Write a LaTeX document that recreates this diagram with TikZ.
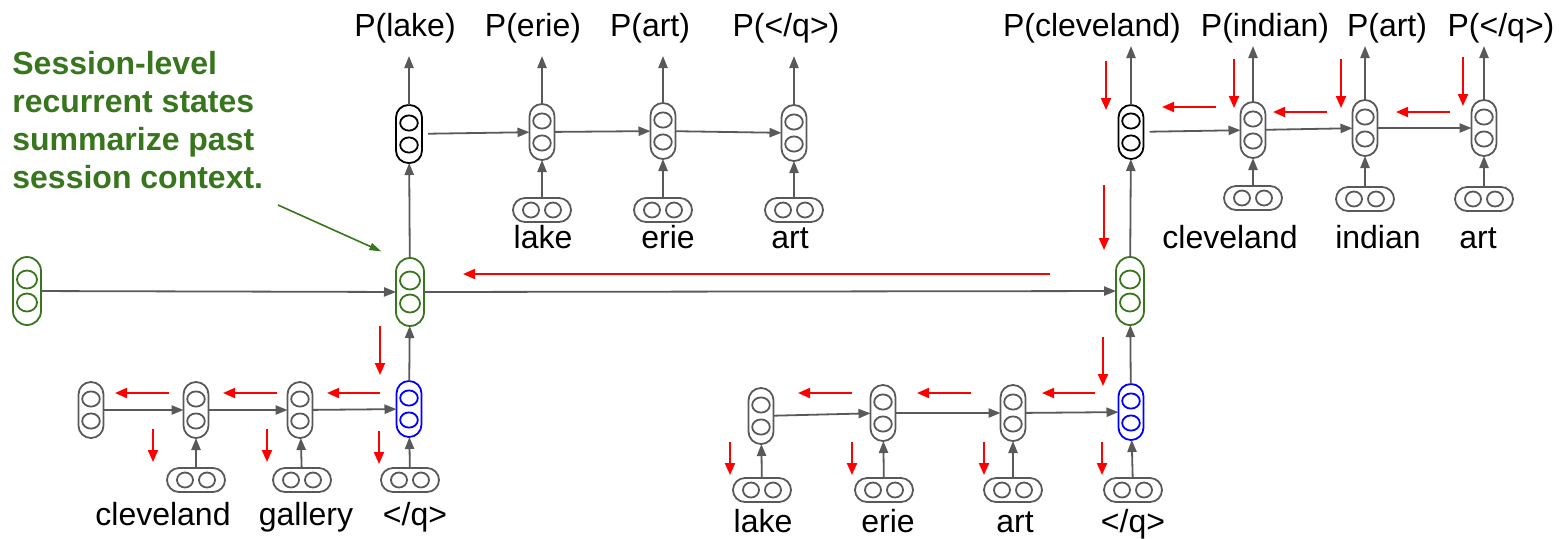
\documentclass[tikz,border=0pt]{standalone}
\usepackage{fontspec}
\setmainfont{Liberation Sans}
\usetikzlibrary{arrows.meta}

\definecolor{sessgreen}{HTML}{38761D}
\definecolor{cellgray}{HTML}{595959}
\definecolor{qblue}{HTML}{0000FF}
\definecolor{gradred}{HTML}{FF0000}

\tikzset{
  % vertical recurrent cell with two units
  tallcell/.style={draw=#1, line width=0.9pt, rounded corners=6.2pt,
    minimum width=12.5pt, minimum height=28pt, inner sep=0pt, outer sep=0pt,
    path picture={\draw[#1, line width=0.9pt]
      ([yshift=5.5pt]path picture bounding box.center) ellipse [x radius=4.4pt, y radius=3.8pt]
      ([yshift=-5.5pt]path picture bounding box.center) ellipse [x radius=4.4pt, y radius=3.8pt];}},
  bigcell/.style={tallcell=black, minimum width=13pt, minimum height=29pt},
  % session-level recurrent cell
  sesscell/.style={draw=sessgreen, line width=0.9pt, rounded corners=7pt,
    minimum width=14pt, minimum height=34pt, inner sep=0pt, outer sep=0pt,
    path picture={\draw[sessgreen, line width=0.9pt]
      ([yshift=5.75pt]path picture bounding box.center) ellipse [x radius=5pt, y radius=4.5pt]
      ([yshift=-5.75pt]path picture bounding box.center) ellipse [x radius=5pt, y radius=4.5pt];}},
  % horizontal word embedding
  embcell/.style={draw=cellgray, line width=0.9pt, rounded corners=6pt,
    minimum width=29pt, minimum height=12pt, inner sep=0pt, outer sep=0pt,
    path picture={\draw[cellgray, line width=0.9pt]
      ([xshift=5.5pt]path picture bounding box.center) ellipse [x radius=4pt, y radius=3.75pt]
      ([xshift=-5.5pt]path picture bounding box.center) ellipse [x radius=4pt, y radius=3.75pt];}},
  flow/.style={draw=cellgray, line width=0.9pt, -{Triangle[length=6pt,width=4.6pt]}},
  grad/.style={draw=gradred, line width=1pt, -{Triangle[length=6pt,width=5pt]}},
  note/.style={draw=sessgreen, line width=0.8pt, -{Triangle[length=6pt,width=3.6pt]}},
  word/.style={font=\fontsize{16}{19}\selectfont, text=black, inner sep=0pt, anchor=base},
}

\begin{document}
\begin{tikzpicture}[x=0.5pt, y=-0.5pt]
\useasboundingbox (0,0) rectangle (1559,538);

% annotation
\node[anchor=north west, align=left, inner sep=0pt, text=sessgreen,
      font=\fontsize{16}{19}\selectfont\bfseries] (notetext) at (12,51)
  {Session-level\\recurrent states\\summarize past\\session context.};
\coordinate (notetail) at (278,205);

% session-level states
\node[sesscell] (s0) at (27,291) {};
\node[sesscell] (s1) at (410,292) {};
\node[sesscell] (s2) at (1130,291) {};

% first query encoder: cleveland gallery </q>
\node[tallcell=cellgray] (a0) at (91,410) {};
\node[tallcell=cellgray] (a1) at (196,410) {};
\node[tallcell=cellgray] (a2) at (300,410) {};
\node[tallcell=qblue]    (a3) at (409,409) {};
\node[embcell] (ea1) at (196,480) {};
\node[embcell] (ea2) at (302,480) {};
\node[embcell] (ea3) at (410,480) {};
\node[word] (wa1) at (163,525) {cleveland};
\node[word] (wa2) at (306,525) {gallery};
\node[word] (wa3) at (415,525) {</q>};

% second query encoder: lake erie art </q>
\node[tallcell=cellgray] (b0) at (761,416) {};
\node[tallcell=cellgray] (b1) at (883,413) {};
\node[tallcell=cellgray] (b2) at (1013,413) {};
\node[tallcell=qblue]    (b3) at (1131,412) {};
\node[embcell] (eb0) at (762,490) {};
\node[embcell] (eb1) at (884,490) {};
\node[embcell] (eb2) at (1013,490) {};
\node[embcell] (eb3) at (1133,490) {};
\node[word] (wb0) at (763,532) {lake};
\node[word] (wb1) at (888,532) {erie};
\node[word] (wb2) at (1015,532) {art};
\node[word] (wb3) at (1133,532) {</q>};

% first decoder: lake erie art
\node[bigcell] (c0) at (409,134) {};
\node[tallcell=cellgray] (c1) at (542,132) {};
\node[tallcell=cellgray] (c2) at (663,131) {};
\node[tallcell=cellgray] (c3) at (794,133) {};
\node[embcell] (ec1) at (542,210) {};
\node[embcell] (ec2) at (663,210) {};
\node[embcell] (ec3) at (794,210) {};
\node[word] (wc1) at (543,248) {lake};
\node[word] (wc2) at (668,248) {erie};
\node[word] (wc3) at (790,248) {art};
\node[word] (pc0) at (405,36) {P(lake)};
\node[word] (pc1) at (533,36) {P(erie)};
\node[word] (pc2) at (650,36) {P(art)};
\node[word] (pc3) at (786,36) {P(</q>)};

% second decoder: cleveland indian art
\node[tallcell=black, minimum width=12.5pt, minimum height=27pt] (d0) at (1131,132) {};
\node[tallcell=cellgray] (d1) at (1253,130) {};
\node[tallcell=cellgray] (d2) at (1365,128) {};
\node[tallcell=cellgray] (d3) at (1484,128) {};
\node[embcell] (ed1) at (1253,198) {};
\node[embcell] (ed2) at (1365,199) {};
\node[embcell] (ed3) at (1484,199) {};
\node[word] (wd1) at (1230,248) {cleveland};
\node[word] (wd2) at (1378,248) {indian};
\node[word] (wd3) at (1478,248) {art};
\node[word] (pd0) at (1092,36) {P(cleveland)};
\node[word] (pd1) at (1265,36) {P(indian)};
\node[word] (pd2) at (1387,36) {P(art)};
\node[word] (pd3) at (1501,36) {P(</q>)};

% forward connections
\draw[flow] (s0) -- (s1);
\draw[flow] (s1) -- (s2);
\draw[flow] (a3) -- (s1);
\draw[flow] (b3) -- (s2);
\draw[flow] (s1) -- (c0);
\draw[flow] (s2) -- (d0);

\draw[flow] (a0) -- (a1);
\draw[flow] (a1) -- (a2);
\draw[flow] (a2) -- (a3);
\foreach \i in {1,2,3} \draw[flow] (ea\i) -- (a\i);

\draw[flow] (b0) -- (b1);
\draw[flow] (b1) -- (b2);
\draw[flow] (b2) -- (b3);
\foreach \i in {0,1,2,3} \draw[flow] (eb\i) -- (b\i);

\draw[flow, shorten <=3pt] (c0) -- (c1);
\draw[flow] (c1) -- (c2);
\draw[flow] (c2) -- (c3);
\foreach \i in {1,2,3} \draw[flow] (ec\i) -- (c\i);
\foreach \i in {0,1,2,3} \draw[flow, shorten >=6.5pt] (c\i.north) -- (c\i |- pc\i.south);

\draw[flow, shorten <=3pt] (d0) -- (d1);
\draw[flow] (d1) -- (d2);
\draw[flow] (d2) -- (d3);
\foreach \i in {1,2,3} \draw[flow] (ed\i) -- (d\i);
\foreach \i in {0,1,2,3} \draw[flow, shorten >=1.5pt] (d\i.north) -- (d\i |- pd\i.south);

% annotation pointer
\draw[note, shorten >=8pt] (notetail) -- (s1.north west);

% backward (gradient) flow
\draw[grad] (1050,274) -- (463,274);

\draw[grad] (380,326) -- (380,375);
\draw[grad] (380,393) -- (327,393);
\draw[grad] (277,393) -- (223,393);
\draw[grad] (169,393) -- (115,393);
\draw[grad] (153,429) -- (153,462);
\draw[grad] (267,429) -- (267,462);
\draw[grad] (379,431) -- (379,464);

\draw[grad] (1103,337) -- (1103,386);
\draw[grad] (1095,393) -- (1042,393);
\draw[grad] (971,393) -- (917,393);
\draw[grad] (852,393) -- (798,393);
\foreach \x in {730,852,984,1102} \draw[grad] (\x,442) -- (\x,475);

\draw[grad] (1104,185) -- (1104,250);
\draw[grad] (1106,61) -- (1106,110);
\draw[grad] (1234,59) -- (1234,108);
\draw[grad] (1341,59) -- (1341,108);
\draw[grad] (1463,57) -- (1463,106);
\draw[grad] (1216,107) -- (1162,107);
\draw[grad] (1327,112) -- (1273,112);
\draw[grad] (1450,112) -- (1396,112);
\end{tikzpicture}
\end{document}
